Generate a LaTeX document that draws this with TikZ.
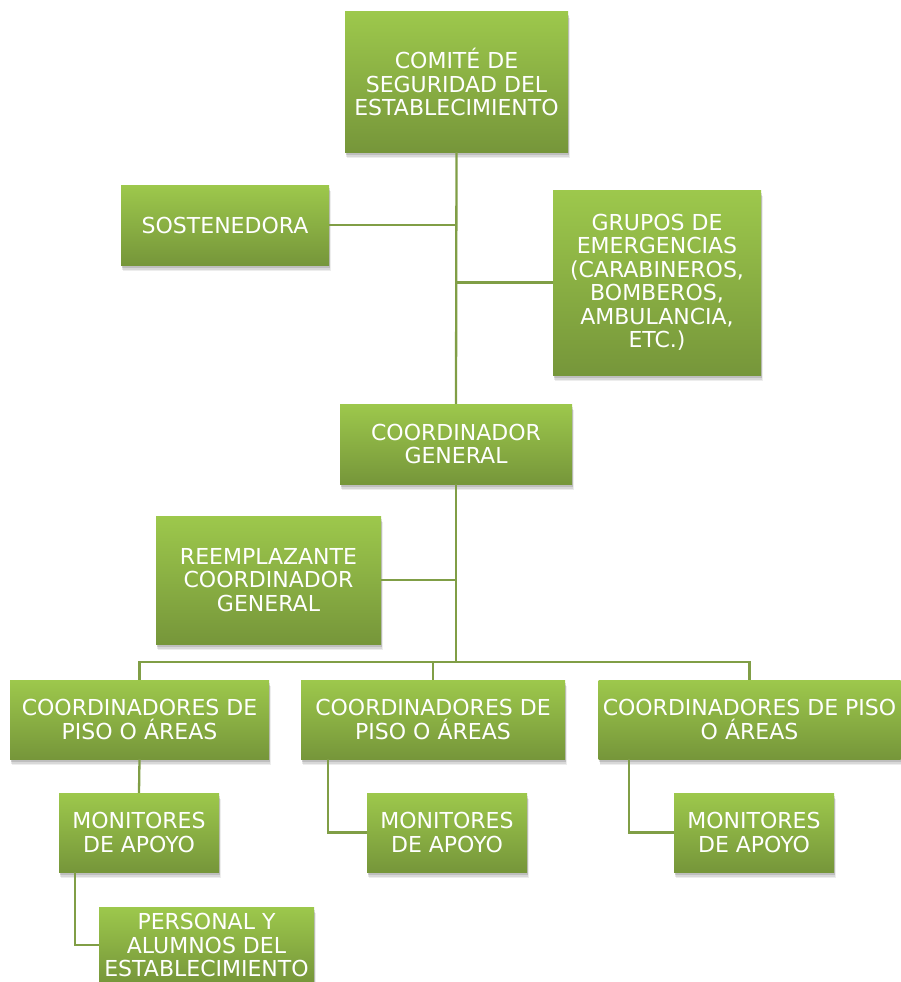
\documentclass[tikz,border=0pt]{standalone}
\usepackage{fontspec}
\setmainfont{DejaVu Sans}
\usetikzlibrary{shadows}
\definecolor{gtop}{RGB}{157,200,76}
\definecolor{gbot}{RGB}{118,150,58}
\definecolor{lnk}{RGB}{128,158,70}
\tikzset{
  orgbox/.style={draw=none, top color=gtop, bottom color=gbot, text=white,
    align=center, inner sep=0pt, font=\fontsize{22}{23.5}\selectfont,
    drop shadow={shadow xshift=1.5pt, shadow yshift=-6pt, opacity=0.07, fill=black},
    drop shadow={shadow xshift=1pt, shadow yshift=-4.5pt, opacity=0.09, fill=black},
    drop shadow={shadow xshift=0.5pt, shadow yshift=-3pt, opacity=0.12, fill=black}},
  link/.style={draw=lnk, line width=2.3pt}
}
\begin{document}
\begin{tikzpicture}[x=1pt,y=-1pt]
\useasboundingbox (0,0) rectangle (901,982);
\node[orgbox, minimum width=223pt, minimum height=140pt] (c1) at (456.5,82) {COMITÉ DE\\SEGURIDAD DEL\\ESTABLECIMIENTO};
\node[orgbox, minimum width=208pt, minimum height=80pt] (s) at (225,225) {SOSTENEDORA};
\node[orgbox, minimum width=208pt, minimum height=185pt] (g) at (657,282.5) {GRUPOS DE\\EMERGENCIAS\\(CARABINEROS,\\BOMBEROS,\\AMBULANCIA,\\ETC.)};
\node[orgbox, minimum width=232pt, minimum height=80pt] (c4) at (456,444) {COORDINADOR\\GENERAL};
\node[orgbox, minimum width=225pt, minimum height=128pt] (r) at (268.5,580) {REEMPLAZANTE\\COORDINADOR\\GENERAL};
\node[orgbox, minimum width=259pt, minimum height=79pt] (p1) at (139.5,719.5) {COORDINADORES DE\\PISO O ÁREAS};
\node[orgbox, minimum width=264pt, minimum height=79pt] (p2) at (433,719.5) {COORDINADORES DE\\PISO O ÁREAS};
\node[orgbox, minimum width=302pt, minimum height=79pt] (p3) at (749.5,719.5) {COORDINADORES DE PISO\\O ÁREAS};
\node[orgbox, minimum width=160pt, minimum height=79pt] (m1) at (139,832.5) {MONITORES\\DE APOYO};
\node[orgbox, minimum width=160pt, minimum height=79pt] (m2) at (447,832.5) {MONITORES\\DE APOYO};
\node[orgbox, minimum width=160pt, minimum height=79pt] (m3) at (754,832.5) {MONITORES\\DE APOYO};
\node[orgbox, minimum width=215pt, minimum height=76pt] (per) at (206.5,945) {PERSONAL Y\\ALUMNOS DEL\\ESTABLECIMIENTO};
\coordinate (bus) at (456,662);
\draw[link] (c1.south) -- (c4.north);
\draw[link] (s.east) -- (s.east -| c1.south);
\draw[link] (g.west) -- (g.west -| c1.south);
\draw[link] (c4.south) -- (bus);
\draw[link] (r.east) -- (r.east -| bus);
\draw[link] (p1.north) -- (p1.north |- bus) -- (p3.north |- bus) -- (p3.north);
\draw[link] (p2.north) -- (p2.north |- bus);
\draw[link] (p1.south) -- (m1.north);
\draw[link] ([xshift=27pt]p2.south west) |- (m2.west);
\draw[link] ([xshift=31pt]p3.south west) |- (m3.west);
\draw[link] ([xshift=16pt]m1.south west) |- (per.west);
\end{tikzpicture}
\end{document}
